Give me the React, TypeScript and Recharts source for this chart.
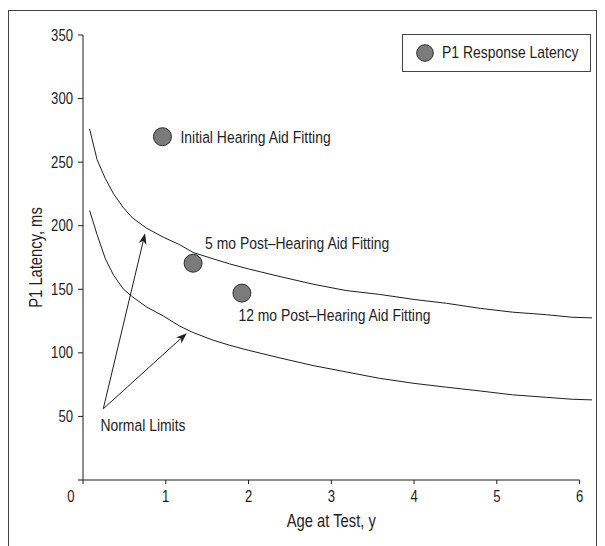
import { ComposedChart, Line, Scatter, XAxis, YAxis, ReferenceLine, ReferenceDot, Legend } from "recharts"

const FONT = "'Liberation Sans', Arial, Helvetica, sans-serif"
const INK = "#1e1e1e"
const SQUEEZE = 0.82 // the figure is set in a condensed face

// normal limits of P1 latency by age
const ages = [0.08, 0.17, 0.27, 0.37, 0.49, 0.6, 0.77, 0.97, 1.17, 1.33, 1.57, 1.77, 2.0, 2.38, 2.78, 3.18, 3.58, 4.0, 4.39, 4.8, 5.19, 5.6, 5.91, 6.15]
const upperLimit = [276, 252, 237, 225, 214, 206, 198, 191, 185, 179, 174, 170, 166, 160, 154, 149, 146, 142, 139, 135, 132, 130, 128, 127.5]
const lowerLimit = [212, 193, 174, 161, 150, 144, 136, 129, 121, 116, 110, 106, 102, 96, 90, 85, 80, 76, 73, 70, 67, 65, 63.5, 63]

// the child's P1 latency at each visit
const visitAges = [0.96, 1.33, 1.92]
const visitLatency = [270, 170.5, 147]
const visitLabels = ["Initial Hearing Aid Fitting", "5 mo Post\u2013Hearing Aid Fitting", "12 mo Post\u2013Hearing Aid Fitting"]

const xTicks = [0, 1, 2, 3, 4, 5, 6]
const yTicks = [0, 50, 100, 150, 200, 250, 300, 350]
const xMax = 6.15

// "Normal Limits" annotation: arrow tail and the two arrow tips
const arrowTail = { age: 0.245, latency: 56 }
const arrowTips = [
  { age: 0.75, latency: 194 },
  { age: 1.254, latency: 115.5 },
]
const normalLimitsText = { age: 0.21, latency: 43, text: "Normal Limits" }

const limitRows = ages.map((age, i) => ({ age, upper: upperLimit[i], lower: lowerLimit[i] }))
const visits = visitAges.map((age, i) => ({ age, latency: visitLatency[i], label: visitLabels[i] }))

// where each visit label sits relative to its marker
const labelOffsets: Record<string, [number, number]> = {
  "Initial Hearing Aid Fitting": [18, 0],
  "5 mo Post\u2013Hearing Aid Fitting": [12, -20],
  "12 mo Post\u2013Hearing Aid Fitting": [-3.5, 22],
}

const CondText = ({ x, y, size, anchor = "start", dy = "0.35em", rotate, children }: any) => (
  <g transform={`translate(${x},${y})${rotate ? ` rotate(${rotate})` : ""} scale(${SQUEEZE},1)`}>
    <text x={0} y={0} dy={dy} textAnchor={anchor} fontSize={size} fill={INK} fontFamily={FONT}>
      {children}
    </text>
  </g>
)

const VisitMarker = (props: any) => {
  const { cx, cy, payload } = props
  const [dx, dy] = labelOffsets[payload.label] || [12, 0]
  return (
    <g>
      <circle cx={cx} cy={cy} r={9} fill="#7b7b7b" stroke="#2a2a2a" strokeWidth={1} />
      <CondText x={cx + dx} y={cy + dy} size={17}>{payload.label}</CondText>
    </g>
  )
}

const Arrow = (props: any) => {
  const { x1, y1, x2, y2 } = props
  const ang = Math.atan2(y2 - y1, x2 - x1)
  const len = 11
  const half = 4
  const bx = x2 - len * Math.cos(ang)
  const by = y2 - len * Math.sin(ang)
  const nx = x2 - len * 0.7 * Math.cos(ang)
  const ny = y2 - len * 0.7 * Math.sin(ang)
  const px = -Math.sin(ang) * half
  const py = Math.cos(ang) * half
  return (
    <g>
      <line x1={x1} y1={y1} x2={nx} y2={ny} stroke={INK} strokeWidth={1} />
      <polygon points={`${x2},${y2} ${bx + px},${by + py} ${nx},${ny} ${bx - px},${by - py}`} fill={INK} />
    </g>
  )
}

const XTick = ({ x, y, payload }: any) => (
  <CondText x={x + (payload.value === 0 ? -12 : 0)} y={y} dy="0.71em" anchor="middle" size={16}>
    {payload.value}
  </CondText>
)

const YTick = ({ x, y, payload }: any) =>
  payload.value === 0 ? <g /> : (
    <CondText x={x} y={y} anchor="end" size={16}>
      {payload.value}
    </CondText>
  )

const XTitle = ({ viewBox }: any) => (
  <CondText x={viewBox.x + (viewBox.width * (xTicks[xTicks.length - 1] / xMax)) / 2} y={viewBox.y + 40.5} anchor="middle" size={18}>
    Age at Test, y
  </CondText>
)

const YTitle = ({ viewBox }: any) => (
  <CondText x={viewBox.x + 26.5} y={viewBox.y + viewBox.height / 2} anchor="middle" rotate={-90} size={18}>
    P1 Latency, ms
  </CondText>
)

const LegendBox = (props: any) => {
  const items = (props.payload || []).filter((p: any) => p.type !== "none")
  return (
    <div style={{ boxSizing: "border-box", width: 189, height: 38, border: "1px solid #444", display: "flex", alignItems: "center", paddingLeft: 13, background: "#fff" }}>
      {items.map((p: any) => (
        <div key={p.value} style={{ display: "flex", alignItems: "center", whiteSpace: "nowrap" }}>
          <svg width={18} height={18}>
            <circle cx={9} cy={9} r={8.3} fill="#7b7b7b" stroke="#2a2a2a" strokeWidth={1} />
          </svg>
          <span style={{ marginLeft: 8, fontFamily: FONT, fontSize: 17, color: INK, display: "inline-block", transform: `scaleX(${SQUEEZE})`, transformOrigin: "left center" }}>
            {p.value}
          </span>
        </div>
      ))}
    </div>
  )
}

export default function App() {
  return (
    <div style={{ position: "absolute", top: 8, left: 8, width: 589, height: 538, overflow: "hidden", background: "#fff" }}>
      <div style={{ position: "absolute", top: 2, left: 0, width: 589, height: 560, boxSizing: "border-box", border: "1px solid #444" }}>
        <ComposedChart
          width={587}
          height={520}
          data={limitRows}
          margin={{ top: 24, right: 4, left: 0, bottom: 0 }}
          style={{ fontFamily: FONT }}
        >
          <XAxis
            dataKey="age"
            type="number"
            domain={[0, xMax]}
            ticks={xTicks}
            axisLine={false}
            tickSize={4}
            tickMargin={7}
            tickLine={{ stroke: INK }}
            tick={<XTick />}
            height={51}
            label={XTitle}
          />
          <YAxis
            type="number"
            domain={[0, 350]}
            ticks={yTicks}
            width={74}
            axisLine={{ stroke: INK }}
            tickLine={{ stroke: INK }}
            tickSize={5}
            tickMargin={5}
            tick={<YTick />}
            label={YTitle}
          />
          <ReferenceLine segment={[{ x: 0, y: 0 }, { x: 6, y: 0 }]} stroke={INK} strokeWidth={1} />
          <Line dataKey="upper" type="linear" stroke={INK} strokeWidth={1} dot={false} legendType="none" isAnimationActive={false} />
          <Line dataKey="lower" type="linear" stroke={INK} strokeWidth={1} dot={false} legendType="none" isAnimationActive={false} />
          {arrowTips.map((tip, i) => (
            <ReferenceLine
              key={i}
              segment={[{ x: arrowTail.age, y: arrowTail.latency }, { x: tip.age, y: tip.latency }]}
              shape={<Arrow />}
            />
          ))}
          <ReferenceDot
            x={normalLimitsText.age}
            y={normalLimitsText.latency}
            r={0}
            shape={(p: any) => (
              <CondText x={p.cx} y={p.cy} size={17}>
                {normalLimitsText.text}
              </CondText>
            )}
          />
          <Scatter name="P1 Response Latency" data={visits} dataKey="latency" shape={<VisitMarker />} isAnimationActive={false} />
          <Legend
            layout="horizontal"
            verticalAlign="middle"
            align="center"
            content={<LegendBox />}
            wrapperStyle={{ left: 393, top: 23, width: 189, height: 38 }}
          />
        </ComposedChart>
      </div>
    </div>
  )
}
